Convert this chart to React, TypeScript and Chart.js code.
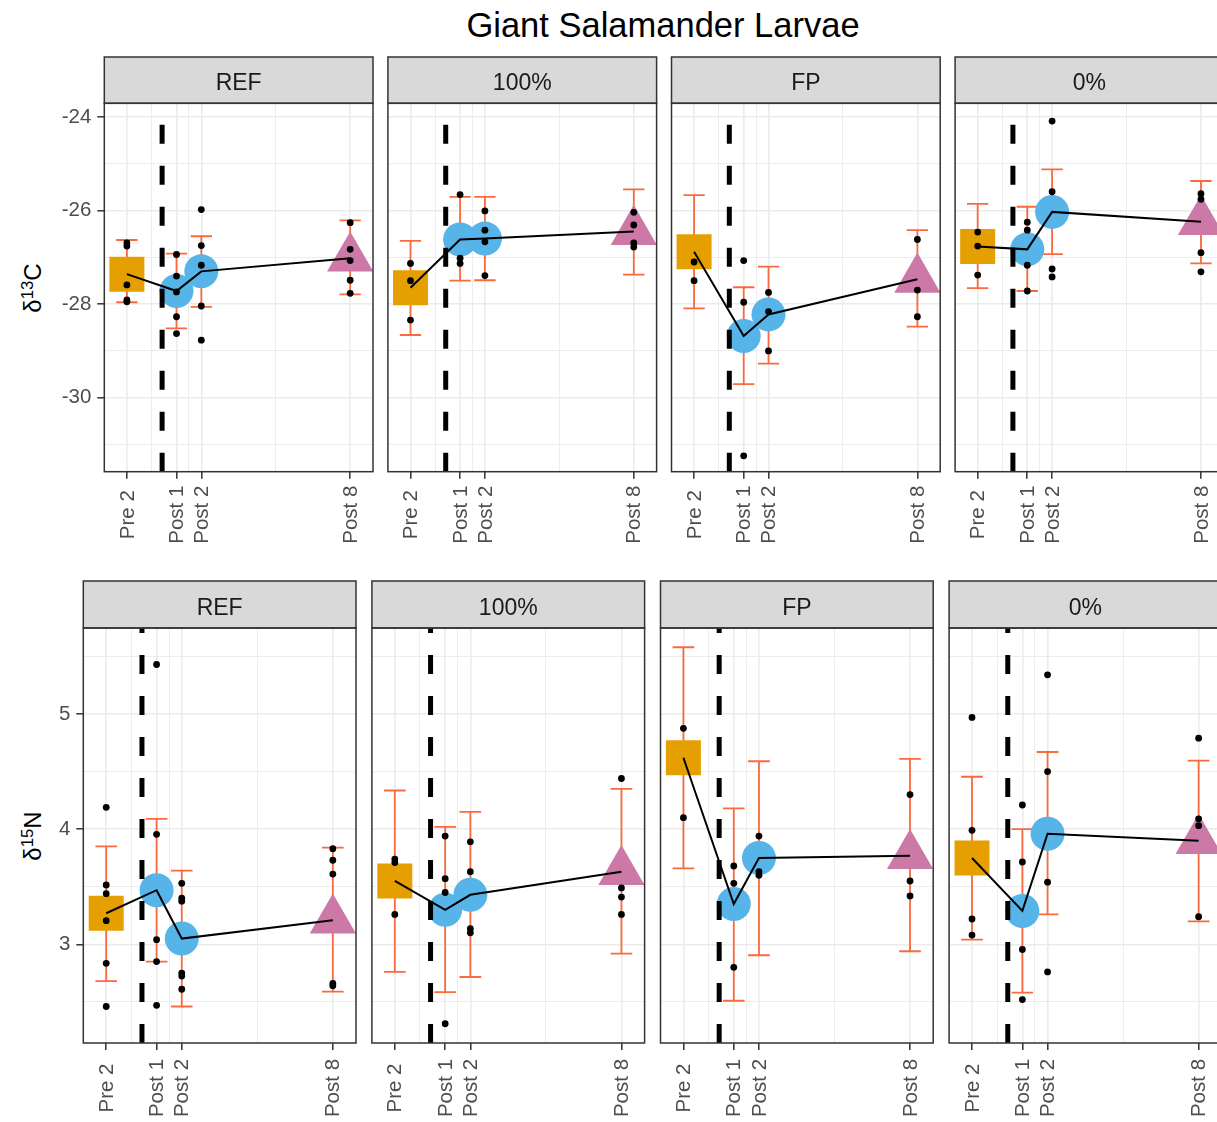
import React, { useEffect, useRef } from 'react';
import { Chart, registerables } from 'chart.js';

Chart.register(...registerables);

// ---------------- data ----------------
const TIME_LABELS = ['Pre 2', 'Post 1', 'Post 2', 'Post 8'];
const TIME_X = [0, 2, 3, 9];
const MINOR_X = [1, 2.5, 6];
const X_LIMITS = [-0.91, 9.92];
const TREATMENT_START_X = 1.42;
const PANELS = ['REF', '100%', 'FP', '0%'];

const C13_LIMITS = [-31.58, -23.71];
const C13_TICKS = [-30, -28, -26, -24];
const C13_MINOR = [-31, -29, -27, -25];
const C13_MEAN = [
  [-27.36, -27.72, -27.3, -27.02],
  [-27.65, -26.62, -26.6, -26.45],
  [-26.88, -28.68, -28.22, -27.47],
  [-26.77, -26.83, -26.03, -26.24],
];
const C13_LOW = [
  [-27.96, -28.52, -28.06, -27.79],
  [-28.66, -27.5, -27.49, -27.37],
  [-28.09, -29.71, -29.27, -28.48],
  [-27.66, -27.72, -26.93, -27.13],
];
const C13_HIGH = [
  [-26.63, -26.92, -26.55, -26.21],
  [-26.65, -25.71, -25.71, -25.55],
  [-25.67, -27.64, -27.2, -26.42],
  [-25.86, -25.92, -25.12, -25.37],
];
const C13_SAMPLES = [
  [[-26.69, -26.76, -27.59, -27.91, -27.95], [-26.94, -27.4, -27.74, -28.27, -28.63], [-25.98, -26.75, -27.17, -28.04, -28.77], [-26.26, -26.83, -27.07, -27.49, -27.77]],
  [[-27.13, -27.5, -28.34], [-25.66, -27.02, -27.13], [-26.01, -26.42, -26.67, -27.39], [-26.04, -26.31, -26.69, -26.78]],
  [[-27.1, -27.5], [-27.07, -27.96, -31.24], [-27.75, -28.16, -29.0], [-26.62, -27.7, -28.27]],
  [[-26.46, -26.76, -27.38], [-26.25, -26.42, -27.17, -27.72], [-24.09, -25.6, -27.25, -27.42], [-25.64, -25.76, -26.9, -27.31]],
];

const N15_LIMITS = [2.143, 5.747];
const N15_TICKS = [3, 4, 5];
const N15_MINOR = [2.5, 3.5, 4.5, 5.5];
const N15_MEAN = [
  [3.27, 3.47, 3.05, 3.21],
  [3.55, 3.3, 3.43, 3.63],
  [4.62, 3.35, 3.75, 3.77],
  [3.75, 3.29, 3.96, 3.9],
];
const N15_LOW = [
  [2.68, 2.85, 2.46, 2.59],
  [2.76, 2.585, 2.716, 2.92],
  [3.66, 2.51, 2.905, 2.94],
  [3.04, 2.58, 3.26, 3.2],
];
const N15_HIGH = [
  [3.85, 4.09, 3.64, 3.84],
  [4.336, 4.02, 4.15, 4.35],
  [5.58, 4.18, 4.59, 4.61],
  [4.455, 4.0, 4.67, 4.595],
];
const N15_SAMPLES = [
  [[4.19, 3.515, 3.44, 3.205, 2.835, 2.46], [5.43, 3.955, 3.04, 2.85, 2.47], [3.53, 3.4, 3.375, 2.75, 2.725, 2.61], [3.83, 3.73, 3.61, 2.66, 2.64]],
  [[3.74, 3.71, 3.26], [3.94, 3.57, 3.45, 2.31], [3.89, 3.63, 3.135, 3.1], [4.44, 3.49, 3.41, 3.26]],
  [[4.876, 4.1], [3.68, 3.53, 2.8], [3.94, 3.63, 3.6], [4.3, 3.55, 3.42]],
  [[4.97, 3.99, 3.22, 3.08], [4.21, 3.715, 2.955, 2.52], [5.34, 4.5, 3.54, 2.76], [4.79, 4.09, 4.03, 3.24]],
];

// ---------------- styles ----------------
const FONT = '"Liberation Sans", Arial, Helvetica, sans-serif';
const MARKER_STYLE = ['rect', 'circle', 'circle', 'triangle'];
const MARKER_COLOR = ['#E69F00', '#56B4E9', '#56B4E9', '#CC79A7'];
const MARKER_RADIUS = [24.75, 17, 17, 26.7];
const ERR_COLOR = '#FA6A3C';
const CAP_HALF = 0.43;

const ROW_DATA = [
  { limits: C13_LIMITS, ticks: C13_TICKS, minor: C13_MINOR, mean: C13_MEAN, low: C13_LOW, high: C13_HIGH, samples: C13_SAMPLES },
  { limits: N15_LIMITS, ticks: N15_TICKS, minor: N15_MINOR, mean: N15_MEAN, low: N15_LOW, high: N15_HIGH, samples: N15_SAMPLES },
];

const ROW_LAYOUT = [
  { stripTop: 57, plotTop: 103.3, plotBottom: 471.7, bottom: 560, left0: 104.3, step: 283.6, width: 268.7, labelOffset: 43 },
  { stripTop: 581, plotTop: 628, plotBottom: 1043, bottom: 1122, left0: 83.3, step: 288.6, width: 272.7, labelOffset: 45 },
];

const near = (list: number[], v: number) => list.some((t) => Math.abs(t - v) < 1e-9);

function Panel({ row, col }: { row: number; col: number }) {
  const ref = useRef<HTMLCanvasElement | null>(null);
  const L = ROW_LAYOUT[row];
  const panelLeft = L.left0 + col * L.step;
  const canvasLeft = col === 0 ? 0 : Math.floor(panelLeft) - 3;
  const canvasTop = L.stripTop - 2;
  const canvasRight = Math.ceil(panelLeft + L.width) + 3;
  const w = canvasRight - canvasLeft;
  const h = L.bottom - canvasTop;

  useEffect(() => {
    const canvas = ref.current;
    if (!canvas) return;
    const D = ROW_DATA[row];
    const yAxisW = panelLeft - canvasLeft;
    const padRight = canvasRight - (panelLeft + L.width);
    const padTop = L.plotTop - canvasTop;
    const xAxisH = L.bottom - L.plotBottom;
    const stripY = L.stripTop - canvasTop;

    const meanData = TIME_X.map((x, i) => ({ x, y: D.mean[col][i] }));
    const sampleData: { x: number; y: number }[] = [];
    TIME_X.forEach((x, i) => D.samples[col][i].forEach((y) => sampleData.push({ x, y })));
    const errData: { x: number; y: number | null }[] = [];
    TIME_X.forEach((x, i) => {
      const lo = D.low[col][i];
      const hi = D.high[col][i];
      errData.push({ x, y: lo }, { x, y: hi }, { x, y: null });
      errData.push({ x: x - CAP_HALF, y: hi }, { x: x + CAP_HALF, y: hi }, { x, y: null });
      errData.push({ x: x - CAP_HALF, y: lo }, { x: x + CAP_HALF, y: lo }, { x, y: null });
    });

    const decor = {
      id: 'panelDecor',
      afterDraw(chart: any) {
        const ctx = chart.ctx as CanvasRenderingContext2D;
        const a = chart.chartArea;
        ctx.save();
        ctx.fillStyle = '#D9D9D9';
        ctx.fillRect(a.left, stripY, a.right - a.left, a.top - stripY);
        ctx.strokeStyle = '#333333';
        ctx.lineWidth = 1.5;
        ctx.strokeRect(a.left, stripY, a.right - a.left, a.top - stripY);
        ctx.strokeRect(a.left, a.top, a.right - a.left, a.bottom - a.top);
        ctx.fillStyle = '#1A1A1A';
        ctx.font = `23px ${FONT}`;
        ctx.textAlign = 'center';
        ctx.textBaseline = 'alphabetic';
        ctx.fillText(PANELS[col], (a.left + a.right) / 2, a.top - 13.5);
        const xs = chart.scales.x;
        ctx.fillStyle = '#4D4D4D';
        ctx.font = `20.5px ${FONT}`;
        ctx.textBaseline = 'middle';
        TIME_X.forEach((v, i) => {
          const px = xs.getPixelForValue(v);
          ctx.save();
          ctx.translate(px + 1, a.bottom + L.labelOffset);
          ctx.rotate(-Math.PI / 2);
          ctx.fillText(TIME_LABELS[i], 0, 0);
          ctx.restore();
        });
        ctx.restore();
      },
    };

    const chart = new Chart(canvas, {
      type: 'scatter',
      data: {
        datasets: [
          {
            type: 'line',
            label: 'treatment start',
            data: [
              { x: TREATMENT_START_X, y: D.limits[0] },
              { x: TREATMENT_START_X, y: D.limits[1] },
            ],
            borderColor: '#000000',
            borderWidth: 5,
            borderDash: [19, 22],
            borderCapStyle: 'butt',
            pointRadius: 0,
            order: 0,
            clip: 0,
          },
          {
            type: 'scatter',
            label: 'samples',
            data: sampleData,
            pointRadius: 3.4,
            pointBackgroundColor: '#000000',
            pointBorderWidth: 0,
            order: 1,
            clip: 0,
          },
          {
            type: 'line',
            label: 'mean',
            data: meanData,
            borderColor: '#000000',
            borderWidth: 2,
            pointRadius: 0,
            tension: 0,
            order: 2,
            clip: 0,
          },
          {
            type: 'scatter',
            label: 'mean marker',
            data: meanData,
            pointStyle: MARKER_STYLE,
            pointRadius: MARKER_RADIUS,
            pointBackgroundColor: MARKER_COLOR,
            pointBorderWidth: 0,
            order: 3,
            clip: 0,
          },
          {
            type: 'line',
            label: 'sd',
            data: errData,
            borderColor: ERR_COLOR,
            borderWidth: 1.8,
            pointRadius: 0,
            spanGaps: false,
            tension: 0,
            order: 4,
            clip: 0,
          },
        ],
      } as any,
      options: {
        animation: false,
        responsive: false,
        maintainAspectRatio: false,
        devicePixelRatio: 1,
        events: [],
        layout: { autoPadding: false, padding: { top: padTop, right: padRight, bottom: 0, left: 0 } },
        plugins: { legend: { display: false }, tooltip: { enabled: false }, title: { display: false } },
        scales: {
          x: {
            type: 'linear',
            min: X_LIMITS[0],
            max: X_LIMITS[1],
            afterBuildTicks: (s: any) => {
              s.ticks = [...TIME_X, ...MINOR_X].sort((p, q) => p - q).map((v) => ({ value: v }));
            },
            afterFit: (s: any) => {
              s.height = xAxisH;
            },
            ticks: { display: false },
            grid: {
              color: '#EBEBEB',
              lineWidth: (c: any) => (c.tick && near(TIME_X, c.tick.value) ? 1.6 : 0.9),
              tickColor: (c: any) => (c.tick && near(TIME_X, c.tick.value) ? '#333333' : 'rgba(0,0,0,0)'),
              tickWidth: 1.5,
              tickLength: 7,
              drawTicks: true,
            },
            border: { display: false },
          },
          y: {
            type: 'linear',
            min: D.limits[0],
            max: D.limits[1],
            afterBuildTicks: (s: any) => {
              s.ticks = [...D.ticks, ...D.minor].sort((p, q) => p - q).map((v) => ({ value: v }));
            },
            afterFit: (s: any) => {
              s.width = yAxisW;
            },
            ticks: {
              display: col === 0,
              autoSkip: false,
              padding: 6,
              color: '#4D4D4D',
              font: { family: FONT, size: 20.5 },
              callback: (v: any) => (near(D.ticks, Number(v)) ? String(v) : ''),
            },
            grid: {
              color: '#EBEBEB',
              lineWidth: (c: any) => (c.tick && near(D.ticks, c.tick.value) ? 1.6 : 0.9),
              tickColor: (c: any) => (c.tick && near(D.ticks, c.tick.value) ? '#333333' : 'rgba(0,0,0,0)'),
              tickWidth: 1.5,
              tickLength: 7,
              drawTicks: col === 0,
            },
            border: { display: false },
          },
        },
      } as any,
      plugins: [decor],
    });
    return () => chart.destroy();
  }, [row, col]);

  return (
    <canvas
      ref={ref}
      width={w}
      height={h}
      style={{ position: 'absolute', left: canvasLeft, top: canvasTop, width: w, height: h }}
    />
  );
}

function AxisTitle({ cx, cy, base, sup, tail }: { cx: number; cy: number; base: string; sup: string; tail: string }) {
  return (
    <div
      style={{
        position: 'absolute',
        left: cx,
        top: cy,
        transform: 'translate(-50%, -50%) rotate(-90deg)',
        fontSize: 24,
        lineHeight: 1,
        whiteSpace: 'nowrap',
        color: '#000',
        fontFamily: FONT,
      }}
    >
      {base}
      <sup style={{ fontSize: '0.7em', verticalAlign: '0.5em', lineHeight: 0 }}>{sup}</sup>
      {tail}
    </div>
  );
}

export default function App() {
  return (
    <div
      style={{
        position: 'fixed',
        left: 0,
        top: 0,
        width: 1217,
        height: 1122,
        overflow: 'hidden',
        background: '#ffffff',
        fontFamily: FONT,
      }}
    >
      <div
        style={{
          position: 'absolute',
          left: 0,
          top: 8,
          width: 1326,
          textAlign: 'center',
          fontSize: 34.5,
          lineHeight: 1,
          color: '#000',
          whiteSpace: 'nowrap',
        }}
      >
        Giant Salamander Larvae
      </div>
      <AxisTitle cx={33} cy={288} base="δ" sup="13" tail="C" />
      <AxisTitle cx={33} cy={836} base="δ" sup="15" tail="N" />
      {ROW_LAYOUT.map((_, r) => PANELS.map((p, c) => <Panel key={`${r}-${c}`} row={r} col={c} />))}
    </div>
  );
}
